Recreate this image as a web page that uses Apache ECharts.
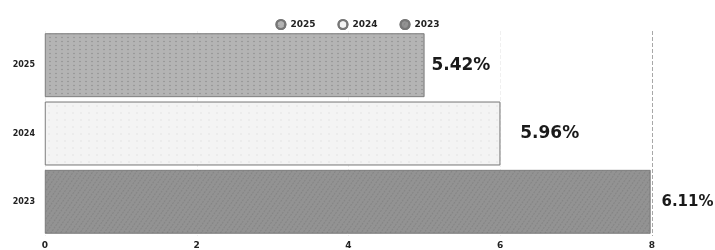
<!DOCTYPE html>
<html>
<head>
<meta charset="utf-8">
<script src="https://cdn.jsdelivr.net/npm/echarts@6/dist/echarts.min.js"></script>
<style>
  html, body { margin: 0; padding: 0; background: #fff; }
  #chart { width: 715px; height: 250px; }
</style>
</head>
<body>
<div id="chart"></div>
<script>
// categories, top to bottom
var years = ['2025', '2024', '2023'];
// bar lengths as drawn against the 0-8 axis
var barLengths = [5.0, 6.0, 7.98];
// value labels printed beside the bars
var labelText = ['5.42%', '5.96%', '6.11%'];
var xTicks = { min: 0, max: 8, interval: 2 };

var fills = ['#b4b4b4', '#f4f4f4', '#939393'];
var decals = [
  { symbol: 'circle', symbolSize: 0.5, color: 'rgba(90,90,90,0.45)', dashArrayX: [4, 2], dashArrayY: [3, 1] },
  { symbol: 'rect', symbolSize: 0.3, color: 'rgba(60,60,60,0.5)', dashArrayX: [2, 6], dashArrayY: [2, 5] },
  { symbol: 'diamond', symbolSize: 0.6, color: 'rgba(60,60,60,0.45)', dashArrayX: [3, 1], dashArrayY: [2, 1], rotation: 0.6 }
];
var labelGap = [7, 20, 11];
var labelSize = [17, 17, 15]; // last one squeezed so it stays inside the frame
var font = 'DejaVu Sans';

var chart = echarts.init(document.getElementById('chart'));

var series = years.map(function (y, i) {
  var data = years.map(function (c, j) { return j === i ? barLengths[i] : null; });
  return {
    name: y,
    type: 'bar',
    stack: 'one',
    barCategoryGap: '7%',
    data: data,
    itemStyle: {
      color: fills[i],
      borderColor: '#777',
      borderWidth: 0.6,
      decal: decals[i]
    },
    label: {
      show: true,
      position: 'right',
      distance: labelGap[i],
      formatter: function () { return labelText[i]; },
      fontFamily: font,
      fontWeight: 'bold',
      fontSize: labelSize[i],
      color: '#1a1a1a'
    }
  };
});

var option = {
  animation: false,
  legend: {
    data: years,
    top: 14,
    left: 'center',
    icon: 'circle',
    itemWidth: 9,
    itemHeight: 9,
    itemGap: 22,
    textStyle: { fontFamily: font, fontWeight: 'bold', fontSize: 9, color: '#222' }
  },
  grid: { left: 45, right: 63, top: 31, bottom: 7, containLabel: false },
  xAxis: {
    type: 'value',
    min: xTicks.min,
    max: xTicks.max,
    interval: xTicks.interval,
    axisLine: { show: false },
    axisTick: { show: false },
    splitLine: {
      show: true,
      lineStyle: { color: ['#f0f0f0', '#f0f0f0', '#f0f0f0', '#f0f0f0', '#a8a8a8'], type: 'dashed', width: 1 }
    },
    axisLabel: { margin: 5, fontFamily: font, fontWeight: 'bold', fontSize: 9, color: '#222' }
  },
  yAxis: {
    type: 'category',
    inverse: true,
    data: years,
    axisLine: { show: false },
    axisTick: { show: false },
    axisLabel: { margin: 10, fontFamily: font, fontWeight: 'bold', fontSize: 8, color: '#222' }
  },
  series: series
};

chart.setOption(option);
</script>
</body>
</html>
